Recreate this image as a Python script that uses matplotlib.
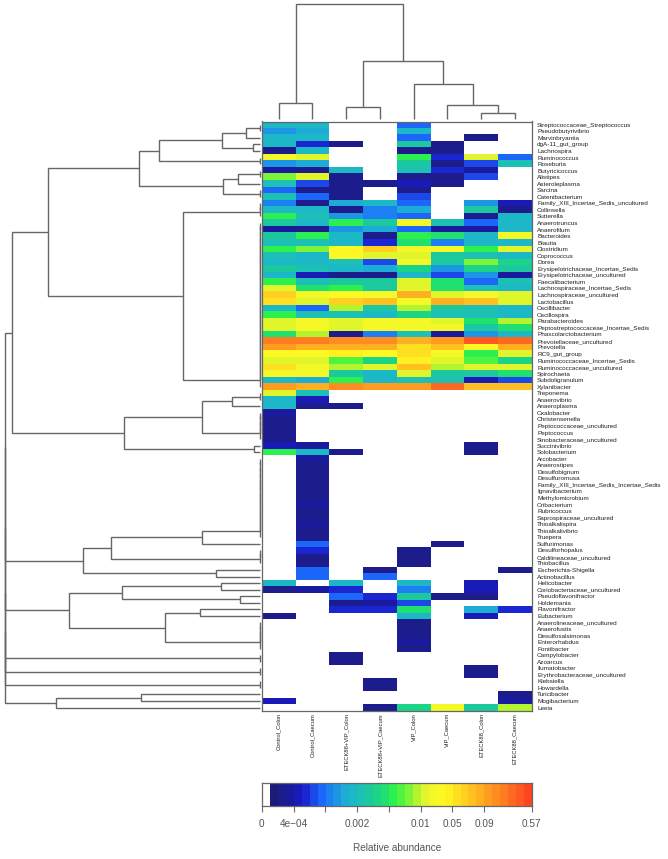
import matplotlib
matplotlib.use("Agg")
import matplotlib.pyplot as plt
from matplotlib.colors import ListedColormap, BoundaryNorm
import numpy as np

plt.rcParams['font.family'] = ['Liberation Sans', 'DejaVu Sans']

W, H = 668, 859
LINE = '#666666'
TXT = '#222222'
MUTED = '#555555'

# Taxa, top to bottom
taxa = ["Streptococcaceae_Streptococcus", "Pseudobutyrivibrio", "Marvinbryantia", "dgA-11_gut_group",
        "Lachnospira", "Ruminococcus", "Roseburia", "Butyricicoccus", "Alistipes", "Asteroleplasma",
        "Sarcina", "Catenibacterium", "Family_XIII_Incertae_Sedis_uncultured", "Collinsella", "Sutterella",
        "Anaerotruncus", "Anaerofilum", "Bacteroides", "Blautia", "Clostridium", "Coprococcus", "Dorea",
        "Erysipelotrichaceae_Incertae_Sedis", "Erysipelotrichaceae_uncultured", "Faecalibacterium",
        "Lachnospiraceae_Incertae_Sedis", "Lachnospiraceae_uncultured", "Lactobacillus", "Oscillibacter",
        "Oscillospira", "Parabacteroides", "Peptostreptococcaceae_Incertae_Sedis", "Phascolarctobacterium",
        "Prevotellaceae_uncultured", "Prevotella", "RC9_gut_group", "Ruminococcaceae_Incertae_Sedis",
        "Ruminococcaceae_uncultured", "Spirochaeta", "Subdoligranulum", "Xylanibacter", "Treponema",
        "Anaerovibrio", "Anaeroplasma", "Oxalobacter", "Christensenella", "Peptococcaceae_uncultured",
        "Peptococcus", "Sinobacteraceae_uncultured", "Succinivibrio", "Solobacterium", "Arcobacter",
        "Anaerostipes", "Desulfobignum", "Desulfuromusa", "Family_XIII_Incertae_Sedis_Incertae_Sedis",
        "Ignavibacterium", "Methylomicrobium", "Oribacterium", "Rubricoccus", "Saprospiraceae_uncultured",
        "Thioalkalispira", "Thioalkalivibrio", "Truepera", "Sulfurimonas", "Desulforhopalus",
        "Caldilineaceae_uncultured", "Thiobacillus", "Escherichia-Shigella", "Actinobacillus", "Helicobacter",
        "Coriobacteriaceae_uncultured", "Pseudoflavonifractor", "Holdemania", "Flavonifractor", "Eubacterium",
        "Anaerolineaceae_uncultured", "Anaerofustis", "Desulfosalsimonas", "Enterorhabdus", "Fontibacter",
        "Campylobacter", "Azoarcus", "Ilumatobacter", "Erythrobacteraceae_uncultured", "Klebsiella",
        "Howardella", "Turicibacter", "Mogibacterium", "Leeia"]

samples = ["Control_Colon", "Control_Caecum", "ETECK88+VIP_Colon", "ETECK88+VIP_Caecum",
           "VIP_Colon", "VIP_Caecum", "ETECK88_Colon", "ETECK88_Caecum"]

# Abundance class (index into the colour key) per sample, taxa in the order above
control_colon = [11, 9, 11, 11, 2, 21, 9, 3, 18, 12,
                 7, 12, 8, 11, 16, 13, 3, 13, 12, 16,
                 12, 11, 13, 11, 16, 20, 25, 24, 11, 16,
                 20, 20, 15, 30, 28, 22, 20, 24, 21, 11,
                 28, 20, 11, 11, 3, 2, 2, 2, 2, 4,
                 16] + [0] * 19 + [11, 2, 0, 0, 0, 2] + [0] * 12 + [4, 0]
control_caecum = [11, 10, 11, 5, 11, 20, 10, 2, 20, 6,
                  2, 7, 2, 11, 12, 11, 2, 16, 12, 18,
                  11, 11, 12, 4, 12, 15, 21, 20, 7, 12,
                  21, 21, 19, 30, 27, 22, 20, 21, 21, 10,
                  27, 12, 4, 2, 0, 0, 0, 0, 0, 3,
                  11, 3, 2, 2, 2, 2, 2, 2, 3, 2,
                  2, 3, 2, 2, 7, 5, 2, 2, 7, 7,
                  0, 3] + [0] * 18
etec_vip_colon = [0, 0, 0, 2, 0, 0, 0, 11, 2, 2,
                  2, 2, 10, 2, 9, 16, 9, 11, 11, 22,
                  22, 12, 11, 2, 13, 16, 22, 25, 19, 12,
                  20, 20, 2, 29, 27, 23, 17, 19, 13, 16,
                  29, 0, 0, 2] + [0] * 6 + [2] + [0] * 19 + [11, 5, 7, 2, 5, 0, 0, 0, 0, 0, 0, 2, 2] + [0] * 7
etec_vip_caecum = [0] * 9 + [2, 0, 0, 11, 8, 8, 13, 10, 2, 5, 25,
                             20, 6, 10, 2, 13, 13, 21, 26, 13, 11,
                             21, 21, 8, 29, 27, 22, 14, 20, 11, 11,
                             28] + [0] * 27 + [2, 7, 0, 0, 5, 3, 5, 0] + [0] * 9 + [2, 2, 0, 0, 2]
vip_colon = [7, 11, 7, 13, 2, 16, 13, 12, 2, 4,
             2, 6, 7, 10, 7, 21, 7, 16, 15, 21,
             20, 21, 14, 11, 20, 20, 27, 21, 19, 14,
             21, 21, 12, 27, 24, 24, 23, 26, 20, 12,
             28] + [0] * 24 + [2, 2, 2, 0, 0, 11, 8, 13, 6, 15, 11, 2, 2, 2, 3, 2] + [0] * 8 + [14]
vip_caecum = [0, 0, 0, 2, 2, 5, 2, 5, 2, 2,
              0, 0, 0, 0, 0, 12, 3, 15, 8, 21,
              13, 13, 9, 6, 15, 15, 20, 27, 13, 12,
              20, 21, 3, 28, 26, 21, 20, 19, 13, 12,
              31] + [0] * 23 + [2] + [0] * 7 + [2] + [0] * 16 + [21]
etec_colon = [0, 0, 2, 0, 0, 20, 6, 3, 6, 0,
              0, 0, 9, 13, 2, 7, 3, 11, 11, 16,
              12, 18, 14, 9, 7, 12, 21, 26, 12, 12,
              15, 13, 9, 32, 22, 16, 17, 20, 13, 4,
              26] + [0] * 8 + [2, 2] + [0] * 19 + [4, 4, 2, 0, 10, 4] + [0] * 7 + [2, 2] + [0] * 4 + [13]
etec_caecum = [0, 0, 0, 0, 0, 7, 12, 0, 0, 0,
               0, 0, 4, 2, 11, 11, 11, 21, 11, 20,
               11, 14, 13, 3, 12, 11, 20, 20, 11, 11,
               19, 15, 11, 31, 27, 20, 14, 20, 15, 6,
               26] + [0] * 27 + [2] + [0] * 5 + [5] + [0] * 12 + [2, 3, 19]

# Colour key
key_colours = ['#ffffff',
               '#1c1c78', '#1c1c8c', '#1a1a9e', '#1a1ab8', '#1a26d2', '#1c48ea', '#1c66fa', '#1c80f2',
               '#1c96e4', '#1cacd6', '#1cb8c8', '#1cc0b4', '#1cc89e', '#1cd488', '#20e070', '#2cf050',
               '#50f440', '#7cf438', '#b4f42e', '#e0f62a', '#f4f826', '#fcf824', '#fff020', '#ffe020',
               '#ffd020', '#ffc020', '#ffb020', '#ff9c20', '#ff8c20', '#ff7c20', '#ff6820', '#ff5820',
               '#ff4420']
key_tick_classes = [0, 4, 8, 12, 16, 20, 24, 28, 34]
key_tick_labels = ["0", "4e\u221204", "", "0.002", "", "0.01", "0.05", "0.09", "0.57"]


# Dendrograms: (merge height, child, child); leaves are 1-based positions
def chain(first, last, h=0.0):
    node = first
    for leaf in range(first + 1, last + 1):
        node = (h, node, leaf)
    return node


row_a = (121.0,
         (101.0, (37.7, (13.4, (0.0, 1, 2), 3), (7.0, 4, 5)), (0.0, 6, 7)),
         (36.4, (22.0, (0.0, 8, 9), 10), (0.0, 11, 12)))
row_b = (77.0, (0.0, (0.0, 13, 14), 15), chain(16, 41))
row_c = (135.7, (58.0, (28.0, (0.0, 42, 43), 44), chain(45, 49)), (5.4, 50, 51))
row_top = (248.0, (211.7, row_a, row_b), row_c)
row_d = (176.4, (149.0, (58.0, chain(52, 64), 65), (0.0, (0.0, 66, 67), 68)), (44.0, 69, 70))
row_e = (191.0, (137.4, (39.0, 71, 72), (19.4, 73, 74)), (94.4, (59.7, 75, 76), chain(77, 81)))
row_i = (203.4, (118.4, 88, 89), 90)
row_tree = (255.0, (255.0, (255.0, (255.0, (255.0, row_top, row_d), row_e),
                            (0.0, 82, 83)), (0.0, 84, 85)), (0.0, 86, 87))
row_tree = (255.0, row_tree, row_i)

col_tree = (115.0, (16.0, 1, 2),
            (58.3, (12.6, 3, 4), (35.0, 5, (14.3, 6, (6.6, 7, 8)))))


def px_axes(x0, y0, x1, y1):
    return fig.add_axes([x0 / W, 1 - y1 / H, (x1 - x0) / W, (y1 - y0) / H])


def draw_tree(ax, node, vertical):
    """Draw a tree; returns (position, height) of the node."""
    if not isinstance(node, tuple):
        return float(node), 0.0
    h, a, b = node
    pa, ha = draw_tree(ax, a, vertical)
    pb, hb = draw_tree(ax, b, vertical)
    xs = [pa, pa, pb, pb]
    ys = [ha, h, h, hb]
    if vertical:
        ax.plot(xs, ys, color=LINE, lw=1.0, solid_joinstyle='miter', solid_capstyle='butt', clip_on=False)
    else:
        ax.plot(ys, xs, color=LINE, lw=1.0, solid_joinstyle='miter', solid_capstyle='butt', clip_on=False)
    return (pa + pb) / 2, h


fig = plt.figure(figsize=(W / 100, H / 100), dpi=100, facecolor='white')

HX0, HX1, HY0, HY1 = 261.8, 531.6, 121.5, 710.8

# Heatmap
ax = px_axes(HX0, HY0, HX1, HY1)
matrix = np.array([control_colon, control_caecum, etec_vip_colon, etec_vip_caecum,
                   vip_colon, vip_caecum, etec_colon, etec_caecum]).T
cmap = ListedColormap(key_colours)
norm = BoundaryNorm(np.arange(len(key_colours) + 1) - 0.5, cmap.N)
ax.imshow(matrix, cmap=cmap, norm=norm, aspect='auto', interpolation='nearest',
          extent=(0.5, len(samples) + 0.5, len(taxa) + 0.5, 0.5))
ax.yaxis.tick_right()
ax.set_yticks(np.arange(1, len(taxa) + 1), taxa, fontsize=4.55, color=TXT)
ax.set_xticks(np.arange(1, len(samples) + 1), samples, rotation=90, fontsize=4.25, color=TXT)
ax.tick_params(axis='both', length=0)
ax.tick_params(axis='y', pad=3.9)
ax.tick_params(axis='x', pad=1.6)
for s in ax.spines.values():
    s.set_color(LINE)
    s.set_linewidth(0.9)

# Row dendrogram
axr = px_axes(0, HY0, 259.7, HY1)
axr.set_xlim(259.7, 0)
axr.set_ylim(len(taxa) + 0.5, 0.5)
axr.axis('off')
draw_tree(axr, row_tree, vertical=False)

# Column dendrogram
axc = px_axes(HX0, 0, HX1, 119.3)
axc.set_xlim(0.5, len(samples) + 0.5)
axc.set_ylim(0, 119.3)
axc.axis('off')
draw_tree(axc, col_tree, vertical=True)

# Colour key
axk = px_axes(HX0, 783.3, HX1, 805.7)
n_key = len(key_colours)
axk.imshow(np.arange(n_key)[None, :], cmap=cmap, norm=norm, aspect='auto',
           interpolation='nearest', extent=(0, n_key, 0, 1))
axk.set_yticks([])
axk.set_xticks(key_tick_classes, key_tick_labels, fontsize=7.2, color=MUTED)
axk.tick_params(axis='x', length=4.3, width=0.8, color=LINE, pad=5.5)
for s in axk.spines.values():
    s.set_color(LINE)
    s.set_linewidth(0.9)
fig.text((HX0 + HX1) / 2 / W, 1 - 848 / H, "Relative abundance", ha='center', va='center',
         fontsize=7.2, color=MUTED)

assert matrix.shape == (len(taxa), len(samples))
fig.savefig('out.png', dpi=100, facecolor='white')
